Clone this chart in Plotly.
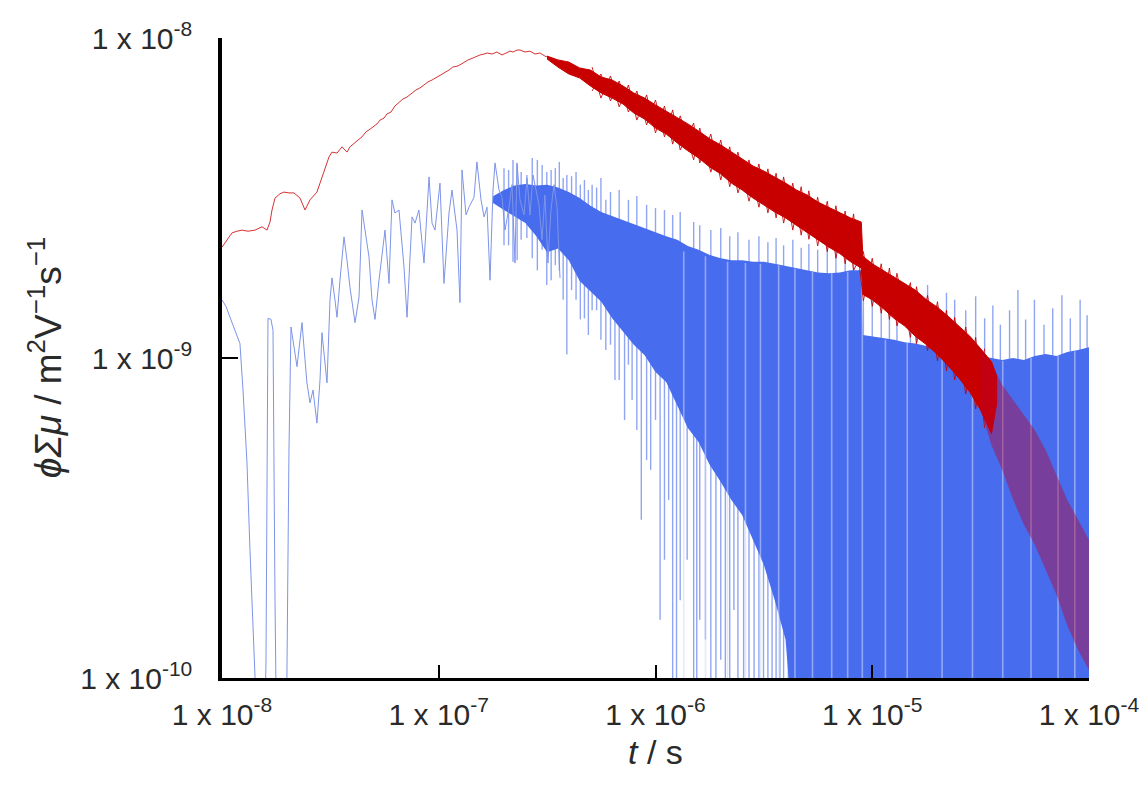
import plotly.graph_objects as go

# ---------------- data ----------------
red_t_early = [1.00e-8, 1.054e-8, 1.112e-8, 1.173e-8, 1.237e-8, 1.318e-8, 1.420e-8, 1.530e-8, 1.613e-8, 1.665e-8,
               1.701e-8, 1.756e-8, 1.852e-8, 1.932e-8, 2.037e-8, 2.148e-8, 2.218e-8, 2.291e-8, 2.415e-8, 2.547e-8,
               2.742e-8, 2.892e-8, 3.020e-8, 3.117e-8, 3.217e-8, 3.393e-8, 3.578e-8, 3.773e-8, 3.895e-8, 4.064e-8,
               4.242e-8, 4.426e-8, 4.617e-8, 4.766e-8, 4.974e-8, 5.19e-8, 5.358e-8, 5.59e-8, 5.77e-8, 6.02e-8,
               6.28e-8, 6.555e-8, 6.84e-8, 7.14e-8, 7.53e-8, 7.85e-8, 8.19e-8, 8.55e-8, 8.92e-8, 9.31e-8,
               9.82e-8, 1.024e-7, 1.069e-7, 1.115e-7, 1.16e-7, 1.227e-7, 1.294e-7, 1.365e-7, 1.44e-7, 1.50e-7,
               1.549e-7, 1.618e-7, 1.67e-7, 1.761e-7, 1.856e-7, 1.958e-7, 2.07e-7, 2.132e-7, 2.20e-7, 2.296e-7,
               2.37e-7, 2.50e-7, 2.636e-7, 2.78e-7, 2.93e-7, 3.09e-7, 3.26e-7]
red_v_early = [2.22e-9, 2.34e-9, 2.46e-9, 2.49e-9, 2.51e-9, 2.49e-9, 2.51e-9, 2.57e-9, 2.51e-9, 2.66e-9,
               2.90e-9, 3.16e-9, 3.26e-9, 3.30e-9, 3.28e-9, 3.28e-9, 3.23e-9, 3.16e-9, 2.90e-9, 3.12e-9,
               3.30e-9, 3.68e-9, 4.01e-9, 4.25e-9, 4.40e-9, 4.37e-9, 4.57e-9, 4.40e-9, 4.57e-9, 4.70e-9,
               4.80e-9, 4.91e-9, 5.09e-9, 5.16e-9, 5.27e-9, 5.39e-9, 5.54e-9, 5.62e-9, 5.79e-9, 5.87e-9,
               6.13e-9, 6.27e-9, 6.45e-9, 6.54e-9, 6.73e-9, 6.88e-9, 6.98e-9, 7.13e-9, 7.29e-9, 7.39e-9,
               7.55e-9, 7.66e-9, 7.78e-9, 7.94e-9, 8.11e-9, 8.18e-9, 8.35e-9, 8.54e-9, 8.66e-9, 8.78e-9,
               8.85e-9, 8.91e-9, 8.98e-9, 8.91e-9, 9.04e-9, 8.85e-9, 8.98e-9, 9.10e-9, 9.04e-9, 9.17e-9,
               9.17e-9, 9.04e-9, 9.10e-9, 8.91e-9, 8.98e-9, 8.78e-9, 8.66e-9]

red_band_t = [3.16e-7, 3.55e-7, 3.98e-7, 4.47e-7, 5.01e-7, 5.62e-7, 6.31e-7, 7.08e-7, 7.94e-7, 8.91e-7,
              1.0e-6, 1.12e-6, 1.26e-6, 1.41e-6, 1.58e-6, 1.78e-6, 2.0e-6, 2.24e-6, 2.51e-6, 2.82e-6,
              3.16e-6, 3.55e-6, 3.98e-6, 4.47e-6, 5.01e-6, 5.62e-6, 6.31e-6, 7.08e-6, 7.94e-6, 8.9e-6,
              9.05e-6, 1.0e-5, 1.12e-5, 1.26e-5, 1.41e-5, 1.58e-5, 1.78e-5, 2.0e-5, 2.24e-5, 2.51e-5,
              2.82e-5, 3.16e-5, 3.55e-5, 3.75e-5]
red_band_hi = [8.78e-9, 8.54e-9, 8.41e-9, 8.06e-9, 7.94e-9, 7.55e-9, 7.39e-9, 7.08e-9, 6.73e-9, 6.49e-9,
               6.18e-9, 5.91e-9, 5.62e-9, 5.39e-9, 5.12e-9, 4.84e-9, 4.63e-9, 4.40e-9, 4.19e-9, 3.98e-9,
               3.84e-9, 3.68e-9, 3.52e-9, 3.35e-9, 3.23e-9, 3.07e-9, 2.96e-9, 2.84e-9, 2.74e-9, 2.66e-9,
               2.08e-9, 1.97e-9, 1.88e-9, 1.79e-9, 1.70e-9, 1.63e-9, 1.52e-9, 1.44e-9, 1.35e-9, 1.26e-9,
               1.17e-9, 1.07e-9, 9.73e-10, 8.80e-10]
red_band_lo = [8.60e-9, 8.11e-9, 7.72e-9, 7.50e-9, 7.08e-9, 6.73e-9, 6.49e-9, 6.22e-9, 5.83e-9, 5.58e-9,
               5.23e-9, 5.01e-9, 4.70e-9, 4.44e-9, 4.22e-9, 3.95e-9, 3.76e-9, 3.52e-9, 3.35e-9, 3.16e-9,
               3.01e-9, 2.86e-9, 2.74e-9, 2.59e-9, 2.47e-9, 2.34e-9, 2.22e-9, 2.12e-9, 2.00e-9, 1.91e-9,
               1.58e-9, 1.52e-9, 1.43e-9, 1.33e-9, 1.26e-9, 1.17e-9, 1.10e-9, 1.025e-9, 9.46e-10, 8.66e-10,
               7.83e-10, 6.88e-10, 5.80e-10, 7.20e-10]

red_noise_t = [5.1e-7, 5.6e-7, 6.2e-7, 6.8e-7, 7.5e-7, 8.2e-7, 9.1e-7, 1.0e-6, 1.1e-6, 1.2e-6,
               1.3e-6, 1.5e-6, 1.6e-6, 1.8e-6, 2.0e-6, 2.2e-6, 2.4e-6, 2.7e-6, 3.0e-6, 3.3e-6,
               3.6e-6, 3.9e-6, 4.3e-6, 4.7e-6, 5.1e-6, 5.6e-6, 6.2e-6, 6.8e-6, 7.5e-6, 8.2e-6,
               9.1e-6, 1.0e-5, 1.1e-5, 1.2e-5, 1.3e-5, 1.5e-5, 1.6e-5, 1.8e-5, 2.0e-5, 2.2e-5,
               2.4e-5, 2.7e-5, 3.0e-5, 3.3e-5]
red_noise_hi = [8.11e-9, 7.72e-9, 7.61e-9, 7.34e-9, 7.13e-9, 6.83e-9, 6.64e-9, 6.40e-9, 6.13e-9, 5.96e-9,
                5.71e-9, 5.42e-9, 5.23e-9, 5.01e-9, 4.80e-9, 4.57e-9, 4.40e-9, 4.16e-9, 4.04e-9, 3.90e-9,
                3.78e-9, 3.68e-9, 3.52e-9, 3.43e-9, 3.33e-9, 3.18e-9, 3.09e-9, 2.99e-9, 2.88e-9, 2.82e-9,
                2.15e-9, 2.05e-9, 1.97e-9, 1.91e-9, 1.84e-9, 1.72e-9, 1.67e-9, 1.57e-9, 1.50e-9, 1.41e-9,
                1.34e-9, 1.25e-9, 1.16e-9, 1.07e-9]
red_noise_lo = [6.83e-9, 6.49e-9, 6.36e-9, 6.09e-9, 5.87e-9, 5.54e-9, 5.35e-9, 5.05e-9, 4.91e-9, 4.66e-9,
                4.47e-9, 4.16e-9, 4.07e-9, 3.81e-9, 3.60e-9, 3.43e-9, 3.28e-9, 3.09e-9, 2.96e-9, 2.84e-9,
                2.74e-9, 2.64e-9, 2.51e-9, 2.42e-9, 2.35e-9, 2.24e-9, 2.15e-9, 2.05e-9, 1.97e-9, 1.88e-9,
                1.51e-9, 1.45e-9, 1.38e-9, 1.32e-9, 1.26e-9, 1.16e-9, 1.11e-9, 1.055e-9, 9.79e-10, 9.11e-10,
                8.54e-10, 7.72e-10, 6.93e-10, 6.04e-10]

red_tail_t = [3.16e-5, 3.55e-5, 3.98e-5, 4.47e-5, 5.01e-5, 5.62e-5, 6.31e-5, 7.08e-5, 7.94e-5, 8.91e-5, 1.0e-4]
red_tail_hi = [1.07e-9, 9.53e-10, 8.24e-10, 7.39e-10, 6.64e-10, 5.96e-10, 5.16e-10, 4.31e-10, 3.60e-10, 3.12e-10, 2.70e-10]
red_tail_lo = [6.88e-10, 5.34e-10, 4.47e-10, 3.60e-10, 3.01e-10, 2.61e-10, 2.18e-10, 1.82e-10, 1.46e-10, 1.22e-10, 1.06e-10]

blue_t_early = [1.00e-8, 1.043e-8, 1.089e-8, 1.148e-8, 1.21e-8, 1.25e-8, 1.277e-8, 1.304e-8, 1.346e-8, 1.39e-8,
                1.42e-8, 1.45e-8, 1.563e-8, 1.596e-8, 1.63e-8, 1.683e-8, 1.719e-8, 1.756e-8, 1.793e-8, 1.974e-8,
                2.037e-8, 2.081e-8, 2.148e-8, 2.218e-8, 2.291e-8, 2.339e-8, 2.415e-8, 2.466e-8, 2.547e-8, 2.63e-8,
                2.742e-8, 2.833e-8, 2.892e-8, 2.987e-8, 3.051e-8, 3.15e-8, 3.217e-8, 3.32e-8, 3.393e-8, 3.502e-8,
                3.655e-8, 3.773e-8, 3.895e-8, 4.109e-8, 4.288e-8, 4.426e-8, 4.617e-8, 4.766e-8, 4.92e-8, 5.08e-8,
                5.30e-8, 5.47e-8, 5.65e-8, 5.895e-8, 6.085e-8, 6.28e-8, 6.555e-8, 6.915e-8, 7.14e-8, 7.53e-8,
                7.77e-8, 8.10e-8, 8.55e-8, 9.02e-8, 9.31e-8, 9.61e-8, 1.013e-7, 1.057e-7, 1.115e-7, 1.151e-7,
                1.214e-7, 1.253e-7, 1.28e-7, 1.336e-7, 1.379e-7, 1.454e-7, 1.50e-7, 1.567e-7, 1.618e-7, 1.67e-7,
                1.724e-7, 1.78e-7, 1.818e-7, 1.897e-7, 1.958e-7, 2.022e-7, 2.11e-7, 2.178e-7, 2.248e-7, 2.296e-7,
                2.37e-7, 2.474e-7, 2.553e-7, 2.636e-7, 2.722e-7, 2.81e-7, 2.90e-7, 2.995e-7, 3.09e-7, 3.19e-7,
                3.294e-7, 3.40e-7, 3.513e-7, 3.626e-7]
blue_v_early = [1.52e-9, 1.45e-9, 1.34e-9, 1.21e-9, 1.11e-9, 7.94e-10, 6.17e-10, 4.70e-10, 2.51e-10, 1.55e-10,
                1.01e-10, 5e-11, 5e-11, 1.14e-10, 1.33e-9, 1.32e-9, 1.22e-9, 1.75e-10, 5e-11, 5e-11,
                5.16e-10, 1.25e-9, 1.10e-9, 9.40e-10, 1.14e-9, 1.29e-9, 9.86e-10, 8.36e-10, 7.24e-10, 7.94e-10,
                6.26e-10, 8.54e-10, 1.20e-9, 9.86e-10, 8.36e-10, 1.52e-9, 1.78e-9, 1.52e-9, 1.34e-9, 1.75e-9,
                2.39e-9, 2.02e-9, 1.66e-9, 1.29e-9, 1.55e-9, 2.90e-9, 2.34e-9, 2.07e-9, 1.52e-9, 1.32e-9,
                1.75e-9, 2.13e-9, 2.51e-9, 1.71e-9, 3.12e-9, 2.84e-9, 2.90e-9, 1.92e-9, 1.34e-9, 2.76e-9,
                2.64e-9, 2.90e-9, 1.98e-9, 3.68e-9, 2.64e-9, 2.51e-9, 3.52e-9, 1.71e-9, 2.84e-9, 3.35e-9,
                2.51e-9, 1.49e-9, 3.87e-9, 2.80e-9, 2.96e-9, 3.18e-9, 4.10e-9, 3.12e-9, 2.76e-9, 2.96e-9,
                1.75e-9, 3.35e-9, 4.07e-9, 3.35e-9, 3.18e-9, 2.51e-9, 2.96e-9, 3.48e-9, 1.98e-9, 4.07e-9,
                3.12e-9, 2.80e-9, 3.65e-9, 2.80e-9, 3.73e-9, 3.35e-9, 3.01e-9, 2.34e-9, 3.23e-9, 1.98e-9,
                2.90e-9, 3.48e-9, 2.96e-9, 1.78e-9]

blue_band_t = [1.78e-7, 2.0e-7, 2.24e-7, 2.51e-7, 2.82e-7, 3.16e-7, 3.55e-7, 3.98e-7, 4.47e-7, 5.01e-7,
               5.62e-7, 6.31e-7, 7.08e-7, 7.94e-7, 8.91e-7, 1.0e-6, 1.12e-6, 1.26e-6, 1.41e-6, 1.58e-6,
               1.78e-6, 2.0e-6, 2.24e-6, 2.51e-6, 2.82e-6, 3.16e-6, 3.55e-6, 3.98e-6, 4.47e-6, 5.01e-6,
               5.62e-6, 6.31e-6, 7.08e-6, 7.94e-6, 8.9e-6, 9.05e-6, 1.0e-5, 1.12e-5, 1.26e-5, 1.41e-5,
               1.58e-5, 1.78e-5, 2.0e-5, 2.24e-5, 2.51e-5, 2.82e-5, 3.16e-5, 3.55e-5, 3.98e-5, 4.47e-5,
               5.01e-5, 5.62e-5, 6.31e-5, 7.08e-5, 7.94e-5, 8.91e-5, 1.0e-4]
blue_band_hi = [3.20e-9, 3.35e-9, 3.46e-9, 3.50e-9, 3.46e-9, 3.48e-9, 3.41e-9, 3.30e-9, 3.16e-9, 2.99e-9,
                2.86e-9, 2.78e-9, 2.70e-9, 2.62e-9, 2.55e-9, 2.47e-9, 2.40e-9, 2.34e-9, 2.24e-9, 2.18e-9,
                2.10e-9, 2.05e-9, 2.02e-9, 2.02e-9, 2.00e-9, 2.00e-9, 1.97e-9, 1.94e-9, 1.91e-9, 1.88e-9,
                1.85e-9, 1.84e-9, 1.85e-9, 1.88e-9, 1.88e-9, 1.18e-9, 1.17e-9, 1.155e-9, 1.14e-9, 1.12e-9,
                1.11e-9, 1.09e-9, 1.08e-9, 1.06e-9, 1.045e-9, 1.03e-9, 1.015e-9, 1.0e-9, 9.86e-10, 1.0e-9,
                9.86e-10, 1.015e-9, 1.03e-9, 1.015e-9, 1.045e-9, 1.06e-9, 1.08e-9]
blue_band_lo = [3.05e-9, 2.90e-9, 2.76e-9, 2.64e-9, 2.40e-9, 2.14e-9, 2.20e-9, 2.02e-9, 1.74e-9, 1.62e-9,
                1.50e-9, 1.33e-9, 1.21e-9, 1.10e-9, 1.02e-9, 9.04e-10, 8.41e-10, 7.13e-10, 6.04e-10, 5.46e-10,
                4.63e-10, 4.10e-10, 3.60e-10, 3.23e-10, 2.70e-10, 2.26e-10, 1.75e-10, 1.32e-10, 5e-11, 5e-11,
                5e-11, 5e-11, 5e-11, 5e-11, 5e-11, 5e-11, 5e-11, 5e-11, 5e-11, 5e-11,
                5e-11, 5e-11, 5e-11, 5e-11, 5e-11, 5e-11, 5e-11, 5e-11, 5e-11, 5e-11,
                5e-11, 5e-11, 5e-11, 5e-11, 5e-11, 5e-11, 5e-11]

blue_spike_t = [2.0e-7, 2.2e-7, 2.4e-7, 2.7e-7, 3.0e-7, 3.3e-7, 3.6e-7, 3.9e-7, 4.3e-7, 4.7e-7,
                5.1e-7, 5.6e-7, 6.2e-7, 6.8e-7, 7.5e-7, 8.2e-7, 9.1e-7, 1.0e-6, 1.1e-6, 1.2e-6,
                1.3e-6, 1.5e-6, 1.6e-6, 1.8e-6, 2.0e-6, 2.2e-6, 2.4e-6, 2.7e-6, 3.0e-6, 3.3e-6,
                3.6e-6, 3.9e-6, 4.3e-6, 4.7e-6, 5.1e-6, 5.6e-6, 6.2e-6, 6.8e-6, 7.5e-6, 8.2e-6,
                9.1e-6, 1.0e-5, 1.1e-5, 1.2e-5, 1.3e-5, 1.5e-5, 1.6e-5, 1.8e-5, 2.0e-5, 2.2e-5,
                2.4e-5, 2.7e-5, 3.0e-5, 3.3e-5, 3.6e-5, 3.9e-5, 4.3e-5, 4.7e-5, 5.1e-5, 5.6e-5,
                6.2e-5, 6.8e-5, 7.5e-5, 8.2e-5, 9.1e-5, 9.8e-5,
                6.5e-7, 7.2e-7, 7.8e-7, 8.6e-7, 9.5e-7, 1.05e-6, 1.15e-6, 1.25e-6, 1.4e-6, 1.55e-6,
                1.7e-6, 1.9e-6, 2.1e-6, 2.3e-6, 2.55e-6, 2.85e-6, 3.15e-6, 3.45e-6, 3.75e-6, 4.1e-6,
                2.1e-7, 2.3e-7, 2.55e-7, 2.85e-7, 3.15e-7, 3.45e-7, 3.75e-7, 4.1e-7, 4.5e-7, 4.9e-7,
                5.35e-7, 5.9e-7]
blue_spike_hi = [3.92e-9, 4.16e-9, 3.81e-9, 4.22e-9, 4.01e-9, 3.87e-9, 4.10e-9, 3.73e-9, 3.81e-9, 3.60e-9,
                 3.48e-9, 3.65e-9, 3.30e-9, 3.35e-9, 3.12e-9, 3.21e-9, 3.01e-9, 2.94e-9, 2.90e-9, 2.80e-9,
                 2.86e-9, 2.66e-9, 2.60e-9, 2.51e-9, 2.55e-9, 2.40e-9, 2.47e-9, 2.34e-9, 2.40e-9, 2.30e-9,
                 2.37e-9, 2.25e-9, 2.34e-9, 2.21e-9, 2.27e-9, 2.18e-9, 2.24e-9, 2.15e-9, 2.21e-9, 2.18e-9,
                 1.52e-9, 1.63e-9, 1.52e-9, 1.685e-9, 1.71e-9, 1.63e-9, 1.57e-9, 1.69e-9, 1.46e-9, 1.60e-9,
                 1.52e-9, 1.41e-9, 1.56e-9, 1.33e-9, 1.46e-9, 1.27e-9, 1.41e-9, 1.63e-9, 1.32e-9, 1.52e-9,
                 1.27e-9, 1.43e-9, 1.57e-9, 1.33e-9, 1.52e-9, 1.36e-9,
                 2.6e-9, 2.5e-9, 2.45e-9, 2.4e-9, 2.35e-9, 2.3e-9, 2.25e-9, 2.2e-9, 2.15e-9, 2.1e-9,
                 2.05e-9, 2.0e-9, 2.0e-9, 1.98e-9, 1.96e-9, 1.95e-9, 1.94e-9, 1.93e-9, 1.92e-9, 1.9e-9,
                 3.87e-9, 4.01e-9, 3.73e-9, 4.16e-9, 3.81e-9, 3.92e-9, 3.65e-9, 3.70e-9, 3.48e-9, 3.35e-9,
                 3.41e-9, 3.12e-9]
blue_spike_lo = [2.25e-9, 2.00e-9, 2.34e-9, 2.05e-9, 2.18e-9, 1.75e-9, 1.88e-9, 1.025e-9, 1.52e-9, 1.33e-9,
                 1.41e-9, 1.14e-9, 1.10e-9, 8.54e-10, 9.53e-10, 5.96e-10, 4.80e-10, 6.40e-10, 2.34e-10, 5e-11,
                 1.75e-10, 5e-11, 1.52e-10, 5e-11, 1.14e-10, 5e-11, 5e-11, 5e-11, 5e-11, 5e-11,
                 5e-11, 5e-11, 5e-11, 5e-11, 5e-11, 5e-11, 5e-11, 5e-11, 5e-11, 5e-11,
                 5e-11, 5e-11, 5e-11, 5e-11, 5e-11, 5e-11, 5e-11, 5e-11, 5e-11, 5e-11,
                 5e-11, 5e-11, 5e-11, 5e-11, 5e-11, 5e-11, 5e-11, 5e-11, 5e-11, 5e-11,
                 5e-11, 5e-11, 5e-11, 5e-11, 5e-11, 5e-11,
                 8.54e-10, 6.40e-10, 7.39e-10, 3.12e-10, 4.47e-10, 1.52e-10, 3.60e-10, 5e-11, 2.34e-10, 5e-11,
                 1.32e-10, 5e-11, 5e-11, 1.63e-10, 5e-11, 5e-11, 5e-11, 5e-11, 5e-11, 5e-11,
                 2.25e-9, 2.02e-9, 2.37e-9, 1.88e-9, 1.69e-9, 1.95e-9, 1.52e-9, 1.63e-9, 1.32e-9, 1.18e-9,
                 1.41e-9, 1.06e-9]

blue_streak_t = [1.35e-6, 1.7e-6, 2.15e-6, 2.6e-6, 3.05e-6, 3.7e-6, 4.4e-6, 5.3e-6, 6.5e-6, 7.7e-6,
                 9.0e-6, 1.15e-5, 1.45e-5, 2.1e-5, 2.9e-5, 4.0e-5, 5.4e-5, 7.2e-5, 8.6e-5]
blue_streak_hi = [2.15e-9, 2.08e-9, 2.0e-9, 1.98e-9, 1.97e-9, 1.95e-9, 1.9e-9, 1.86e-9, 1.84e-9, 1.86e-9,
                  1.85e-9, 1.14e-9, 1.12e-9, 1.06e-9, 1.02e-9, 9.8e-10, 1.0e-9, 1.02e-9, 1.05e-9]
blue_streak_lo = [5e-11, 5e-11, 5e-11, 5e-11, 5e-11, 5e-11, 5e-11, 5e-11, 5e-11, 5e-11,
                  5e-11, 5e-11, 5e-11, 5e-11, 5e-11, 5e-11, 5e-11, 5e-11, 5e-11]

x_tickvals = [1e-8, 1e-7, 1e-6, 1e-5, 1e-4]
x_ticktext = ["1 x 10<sup>-8</sup>", "1 x 10<sup>-7</sup>", "1 x 10<sup>-6</sup>",
              "1 x 10<sup>-5</sup>", "1 x 10<sup>-4</sup>"]
y_tickvals = [1e-10, 1e-9, 1e-8]
y_ticktext = ["1 x 10<sup>-10</sup>", "1 x 10<sup>-9</sup>", "1 x 10<sup>-8</sup>"]

x_title = "<i>t</i> / s"
y_title = "<i>\u03d5\u03a3\u03bc</i> / m<sup>2</sup>V<sup>\u22121</sup>s<sup>\u22121</sup>"


# ---------------- helpers ----------------
def band(t, hi, lo):
    return list(t) + list(t)[::-1], list(hi) + list(lo)[::-1]


def segments(t, hi, lo):
    xs, ys = [], []
    for a, h, l in zip(t, hi, lo):
        xs += [a, a, None]
        ys += [h, l, None]
    return xs, ys


def zigzag(t, hi, lo, phase):
    ys = [h if (i + phase) % 2 == 0 else l for i, (h, l) in enumerate(zip(hi, lo))]
    return list(t), ys


fig = go.Figure()

sx, sy = segments(blue_spike_t, blue_spike_hi, blue_spike_lo)
fig.add_trace(go.Scatter(x=sx, y=sy, mode="lines",
                         line=dict(color="rgba(85,118,235,0.65)", width=1.4),
                         hoverinfo="skip"))

bx, by = band(blue_band_t, blue_band_hi, blue_band_lo)
fig.add_trace(go.Scatter(x=bx, y=by, mode="lines", fill="toself",
                         fillcolor="rgb(72,108,238)", line=dict(width=0),
                         hoverinfo="skip"))

kx, ky = segments(blue_streak_t, blue_streak_hi, blue_streak_lo)
fig.add_trace(go.Scatter(x=kx, y=ky, mode="lines",
                         line=dict(color="rgba(205,215,252,0.55)", width=1.6),
                         hoverinfo="skip"))

fig.add_trace(go.Scatter(x=blue_t_early, y=blue_v_early, mode="lines",
                         line=dict(color="rgb(125,148,232)", width=1)))

fig.add_trace(go.Scatter(x=red_t_early, y=red_v_early, mode="lines",
                         line=dict(color="rgb(214,50,50)", width=1)))

rx, ry = band(red_band_t, red_band_hi, red_band_lo)
fig.add_trace(go.Scatter(x=rx, y=ry, mode="lines", fill="toself",
                         fillcolor="rgb(200,0,0)", line=dict(color="rgb(200,0,0)", width=1),
                         hoverinfo="skip"))

for ph in (0, 1):
    zx, zy = zigzag(red_noise_t, red_noise_hi, red_noise_lo, ph)
    fig.add_trace(go.Scatter(x=zx, y=zy, mode="lines",
                             line=dict(color="rgba(196,0,0,0.85)", width=1),
                             hoverinfo="skip"))

tx, ty = band(red_tail_t, red_tail_hi, red_tail_lo)
fig.add_trace(go.Scatter(x=tx, y=ty, mode="lines", fill="toself",
                         fillcolor="rgba(185,0,40,0.42)", line=dict(width=0),
                         hoverinfo="skip"))

fig.update_layout(
    width=1144, height=791,
    margin=dict(l=222, r=55, t=38, b=113),
    paper_bgcolor="white", plot_bgcolor="white",
    showlegend=False,
    font=dict(family="Arial, 'Liberation Sans', sans-serif", color="#2a2a2a"),
)

fig.update_xaxes(type="log", range=[-8, -4], tickvals=x_tickvals, ticktext=x_ticktext,
                 ticks="inside", ticklen=13, tickwidth=2, tickcolor="black",
                 showline=True, linecolor="black", linewidth=3, automargin=False,
                 showgrid=False, zeroline=False, tickfont=dict(size=30),
                 ticklabelstandoff=8)
fig.update_yaxes(type="log", range=[-10, -8], tickvals=y_tickvals, ticktext=y_ticktext,
                 ticks="inside", ticklen=16, tickwidth=2, tickcolor="black",
                 showline=True, linecolor="black", linewidth=3.5, automargin=False,
                 showgrid=False, zeroline=False, tickfont=dict(size=30),
                 ticklabelstandoff=20)

fig.add_annotation(text=x_title, xref="paper", yref="paper", x=0.5, y=-0.115,
                   xanchor="center", yanchor="middle", showarrow=False,
                   font=dict(size=34, color="#2a2a2a"))
fig.add_annotation(text=y_title, xref="paper", yref="paper", x=-0.204, y=0.5,
                   xanchor="center", yanchor="middle", showarrow=False, textangle=-90,
                   font=dict(size=37, color="#2a2a2a"))

fig.write_html("out.html")
